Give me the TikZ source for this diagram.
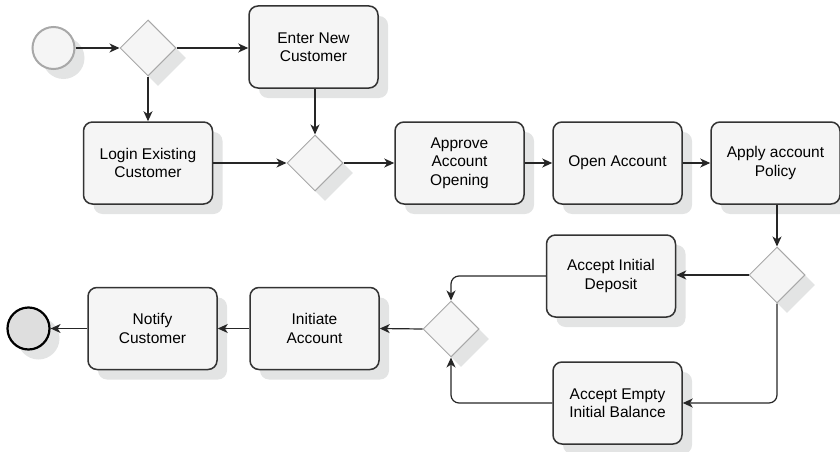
\documentclass[tikz,border=0pt]{standalone}
\usepackage{fontspec}
\setmainfont{Liberation Sans}
\usetikzlibrary{shapes.geometric,arrows.meta,shadows}
\definecolor{boxfill}{HTML}{F5F5F5}
\definecolor{edgecol}{HTML}{333333}
\definecolor{shadowcol}{HTML}{E3E4E4}
\definecolor{gatecol}{HTML}{A8A8A8}
\tikzset{
  softshadow/.style={drop shadow={shadow xshift=10pt,shadow yshift=-10pt,fill=shadowcol,opacity=1}},
  task/.style={draw=edgecol, line width=1.5pt, fill=boxfill, rounded corners=9pt,
    minimum width=129pt, minimum height=82pt, inner sep=2pt, align=center,
    font=\fontsize{15.5}{18.5}\selectfont, softshadow},
  gate/.style={diamond, draw=gatecol, line width=1pt, fill=boxfill, aspect=1,
    minimum width=56pt, minimum height=56pt, inner sep=0pt, softshadow},
  startev/.style={circle, draw=gatecol, line width=2pt, fill=boxfill,
    minimum size=42pt, inner sep=0pt, softshadow},
  endev/.style={circle, draw=black, line width=2.2pt, fill=black!13,
    minimum size=42pt, inner sep=0pt, softshadow},
  flow/.style={draw=black!85, line width=1.2pt,
    -{Stealth[length=10pt,width=9pt,inset=3pt]}, rounded corners=8pt},
}
\begin{document}
\begin{tikzpicture}[x=1pt,y=-1pt]
  \useasboundingbox (0,0) rectangle (840,452);

  % events and gateways
  \node[startev] (start) at (53.5,48) {};
  \node[gate] (g1) at (148,48) {};
  \node[gate] (g2) at (315,163) {};
  \node[gate] (g3) at (777,275) {};
  \node[gate] (g4) at (451,329) {};
  \node[endev] (stop) at (28.5,328.5) {};

  % tasks
  \node[task] (enter) at (313.5,47) {Enter New\\Customer};
  \node[task] (login) at (148,163) {Login Existing\\Customer};
  \node[task] (approve) at (459.5,163) {Approve\\Account\\Opening};
  \node[task] (open) at (617.5,163) {Open Account};
  \node[task] (apply) at (775.5,163) {Apply account\\Policy};
  \node[task] (deposit) at (611,276) {Accept Initial\\Deposit};
  \node[task] (empty) at (617.5,403) {Accept Empty\\Initial Balance};
  \node[task] (initiate) at (314.5,328.5) {Initiate\\Account};
  \node[task] (notify) at (152.5,328.5) {Notify\\Customer};

  % sequence flows
  \draw[flow] (start) -- (g1);
  \draw[flow] (g1.east) -- (g1.east -| enter.west);
  \draw[flow] (g1.south) -- (g1.south |- login.north);
  \draw[flow] (login.east) -- (g2.west);
  \draw[flow] (enter.south -| g2.north) -- (g2.north);
  \draw[flow] (g2.east) -- (approve.west);
  \draw[flow] (approve) -- (open);
  \draw[flow] (open) -- (apply);
  \draw[flow] (apply.south -| g3.north) -- (g3.north);
  \draw[flow] (g3.west) -- (g3.west -| deposit.east);
  \draw[flow] (g3.south) |- (empty.east);
  \draw[flow] (deposit.west) -| (g4.north);
  \draw[flow] (empty.west) -| (g4.south);
  \draw[flow] (g4.west) -- (initiate.east);
  \draw[flow] (initiate) -- (notify);
  \draw[flow] (notify) -- (stop);
\end{tikzpicture}
\end{document}
